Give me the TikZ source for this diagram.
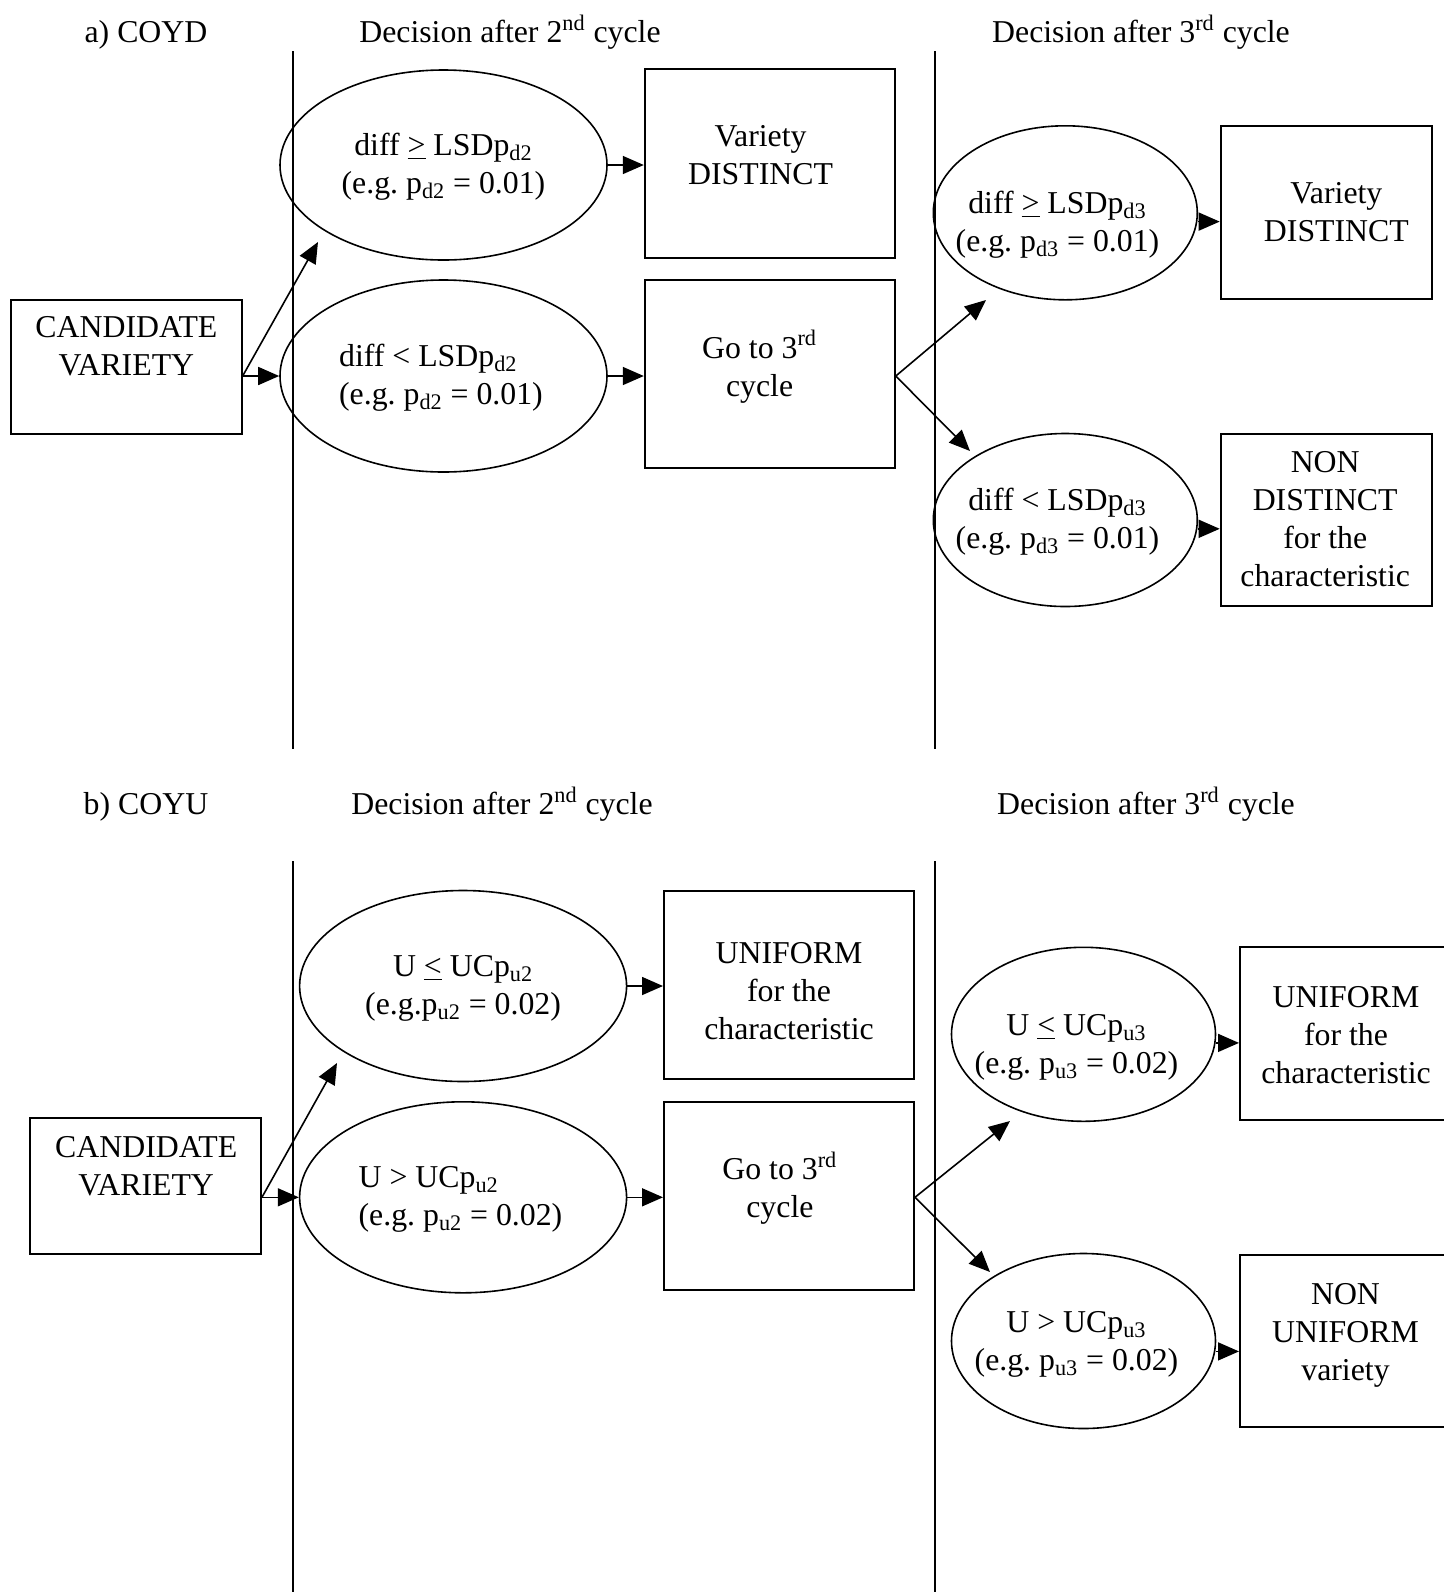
\documentclass[tikz,border=0pt]{standalone}
\usepackage{fontspec}
\setmainfont{Liberation Serif}
\usetikzlibrary{arrows.meta,shapes.geometric}
\frenchspacing

\begin{document}
\begin{tikzpicture}[x=0.5pt,y=-0.5pt,
  every node/.style={font=\fontsize{15.9}{19}\selectfont, inner sep=0pt},
  frame/.style={draw, line width=1pt, rectangle},
  cond/.style={draw, line width=0.8pt, ellipse, align=center},
  lbl/.style={align=center},
  go/.style={line width=0.8pt, -{Triangle[length=10.5pt,width=9pt]}},
  divider/.style={line width=1pt}]

\useasboundingbox (0,0) rectangle (1444,1592);
\fill[white] (0,0) rectangle (1444,1592);

% ---------- a) COYD ----------
\node (ta)  at (146,35)  {a) COYD};
\node (t2a) at (510,32)  {Decision after 2\textsuperscript{nd} cycle};
\node (t3a) at (1141,32) {Decision after 3\textsuperscript{rd} cycle};

\coordinate (d1a) at (292.5,51);  \coordinate (d1b) at (292.5,749);
\coordinate (d2a) at (935.3,51);  \coordinate (d2b) at (935.3,749);
\draw[divider] (d1a) -- (d1b);
\draw[divider] (d2a) -- (d2b);

\node[frame, minimum width=115.25pt, minimum height=67pt] (candA) at (126.4,366.6) {};
\node[lbl] (candAt) at (126.4,346.5) {CANDIDATE\\VARIETY};

\node[cond, minimum width=163.5pt, minimum height=95pt] (eA1) at (443.5,165) {};
\node[lbl] (eA1t) at (443.5,167)
  {diff \underline{>} LSDp\textsubscript{d2}\\(e.g. p\textsubscript{d2} = 0.01)};
\node[cond, minimum width=163.5pt, minimum height=96pt] (eA2) at (443.5,376) {};
\node[lbl, align=left] (eA2t) at (441,378)
  {diff < LSDp\textsubscript{d2}\\(e.g. p\textsubscript{d2} = 0.01)};

\node[frame, minimum width=125pt, minimum height=94.5pt] (bA1) at (769.8,163) {};
\node[lbl] (bA1t) at (760.6,155.4) {Variety\\DISTINCT};
\node[frame, minimum width=125pt, minimum height=94pt] (bA2) at (769.8,374.2) {};
\node[lbl] (bA2t) at (759.6,366.6) {Go to 3\textsuperscript{rd}\\cycle};

\node[cond, minimum width=132pt, minimum height=87pt] (eA3) at (1065.3,212.8) {};
\node[lbl] (eA3t) at (1057.5,224.4)
  {diff \underline{>} LSDp\textsubscript{d3}\\(e.g. p\textsubscript{d3} = 0.01)};
\node[cond, minimum width=132pt, minimum height=86.5pt] (eA4) at (1065.3,520) {};
\node[lbl] (eA4t) at (1057.5,522)
  {diff < LSDp\textsubscript{d3}\\(e.g. p\textsubscript{d3} = 0.01)};

\node[frame, minimum width=105.6pt, minimum height=86.4pt] (bA3) at (1326.3,212.3) {};
\node[lbl] (bA3t) at (1336.4,212.2) {Variety\\DISTINCT};
\node[frame, minimum width=105.6pt, minimum height=86.4pt] (bA4) at (1326.3,520) {};
\node[lbl] (bA4t) at (1325.2,519.5) {NON\\DISTINCT\\for the\\characteristic};

\coordinate (forkA1) at (candA.east |- eA2.west);
\coordinate (tipA1) at (318,242);
\draw[go] (forkA1) -- (eA2.west);
\draw[go] (forkA1) -- (tipA1);
\draw[go] (eA1.east) -- (eA1.east -| bA1.west);
\draw[go] (eA2.east) -- (eA2.east -| bA2.west);
\coordinate (forkA2) at (bA2.east |- eA2.east);
\coordinate (tipA3) at (986,300);
\coordinate (tipA4) at (970,451);
\draw[go] (forkA2) -- (tipA3);
\draw[go] (forkA2) -- (tipA4);
\coordinate (aA3) at ([yshift=-4.4pt]eA3.east);
\coordinate (aA4) at ([yshift=-4.4pt]eA4.east);
\draw[go] (aA3) -- (aA3 -| bA3.west);
\draw[go] (aA4) -- (aA4 -| bA4.west);

% ---------- b) COYU ----------
\node (tb)  at (146,807)  {b) COYU};
\node (t2b) at (502,804)  {Decision after 2\textsuperscript{nd} cycle};
\node (t3b) at (1146,804) {Decision after 3\textsuperscript{rd} cycle};

\coordinate (d3a) at (292.5,861);  \coordinate (d3b) at (292.5,1592);
\coordinate (d4a) at (935.3,861);  \coordinate (d4b) at (935.3,1592);
\draw[divider] (d3a) -- (d3b);
\draw[divider] (d4a) -- (d4b);

\node[frame, minimum width=115.25pt, minimum height=68pt] (candB) at (145.7,1186) {};
\node[lbl] (candBt) at (146.2,1166) {CANDIDATE\\VARIETY};

\node[cond, minimum width=163.5pt, minimum height=95.5pt] (eB1) at (463.1,986) {};
\node[lbl] (eB1t) at (463.1,988)
  {U \underline{<} UCp\textsubscript{u2}\\(e.g.p\textsubscript{u2} = 0.02)};
\node[cond, minimum width=163.5pt, minimum height=95.5pt] (eB2) at (463.1,1197.3) {};
\node[lbl, align=left] (eB2t) at (460.5,1199.3)
  {U > UCp\textsubscript{u2}\\(e.g. p\textsubscript{u2} = 0.02)};

\node[frame, minimum width=125pt, minimum height=94pt] (bB1) at (789,984.5) {};
\node[lbl] (bB1t) at (789,991.6) {UNIFORM\\for the\\characteristic};
\node[frame, minimum width=125pt, minimum height=94pt] (bB2) at (789,1195.7) {};
\node[lbl] (bB2t) at (779.9,1188.1) {Go to 3\textsuperscript{rd}\\cycle};

\node[cond, minimum width=132pt, minimum height=87pt] (eB3) at (1083.5,1034.3) {};
\node[lbl] (eB3t) at (1076.5,1047)
  {U \underline{<} UCp\textsubscript{u3}\\(e.g. p\textsubscript{u3} = 0.02)};
\node[cond, minimum width=132pt, minimum height=87.5pt] (eB4) at (1083.5,1341) {};
\node[lbl] (eB4t) at (1076.5,1344.5)
  {U > UCp\textsubscript{u3}\\(e.g. p\textsubscript{u3} = 0.02)};

\node[frame, minimum width=105.6pt, minimum height=86.3pt] (bB3) at (1345.6,1033.7) {};
\node[lbl] (bB3t) at (1346,1035.3) {UNIFORM\\for the\\characteristic};
\node[frame, minimum width=105.6pt, minimum height=86pt] (bB4) at (1345.6,1341) {};
\node[lbl] (bB4t) at (1345.5,1335.4) {NON\\UNIFORM\\variety};

\coordinate (forkB1) at (candB.east |- eB2.west);
\coordinate (tipB1) at (337,1063);
\draw[go] (forkB1) -- (eB2.west);
\draw[go] (forkB1) -- (tipB1);
\draw[go] (eB1.east) -- (eB1.east -| bB1.west);
\draw[go] (eB2.east) -- (eB2.east -| bB2.west);
\coordinate (forkB2) at (bB2.east |- eB2.east);
\coordinate (tipB3) at (1010,1121);
\coordinate (tipB4) at (990,1272);
\draw[go] (forkB2) -- (tipB3);
\draw[go] (forkB2) -- (tipB4);
\coordinate (aB3) at ([yshift=-4.3pt]eB3.east);
\coordinate (aB4) at ([yshift=-5.2pt]eB4.east);
\draw[go] (aB3) -- (aB3 -| bB3.west);
\draw[go] (aB4) -- (aB4 -| bB4.west);
\end{tikzpicture}
\end{document}
